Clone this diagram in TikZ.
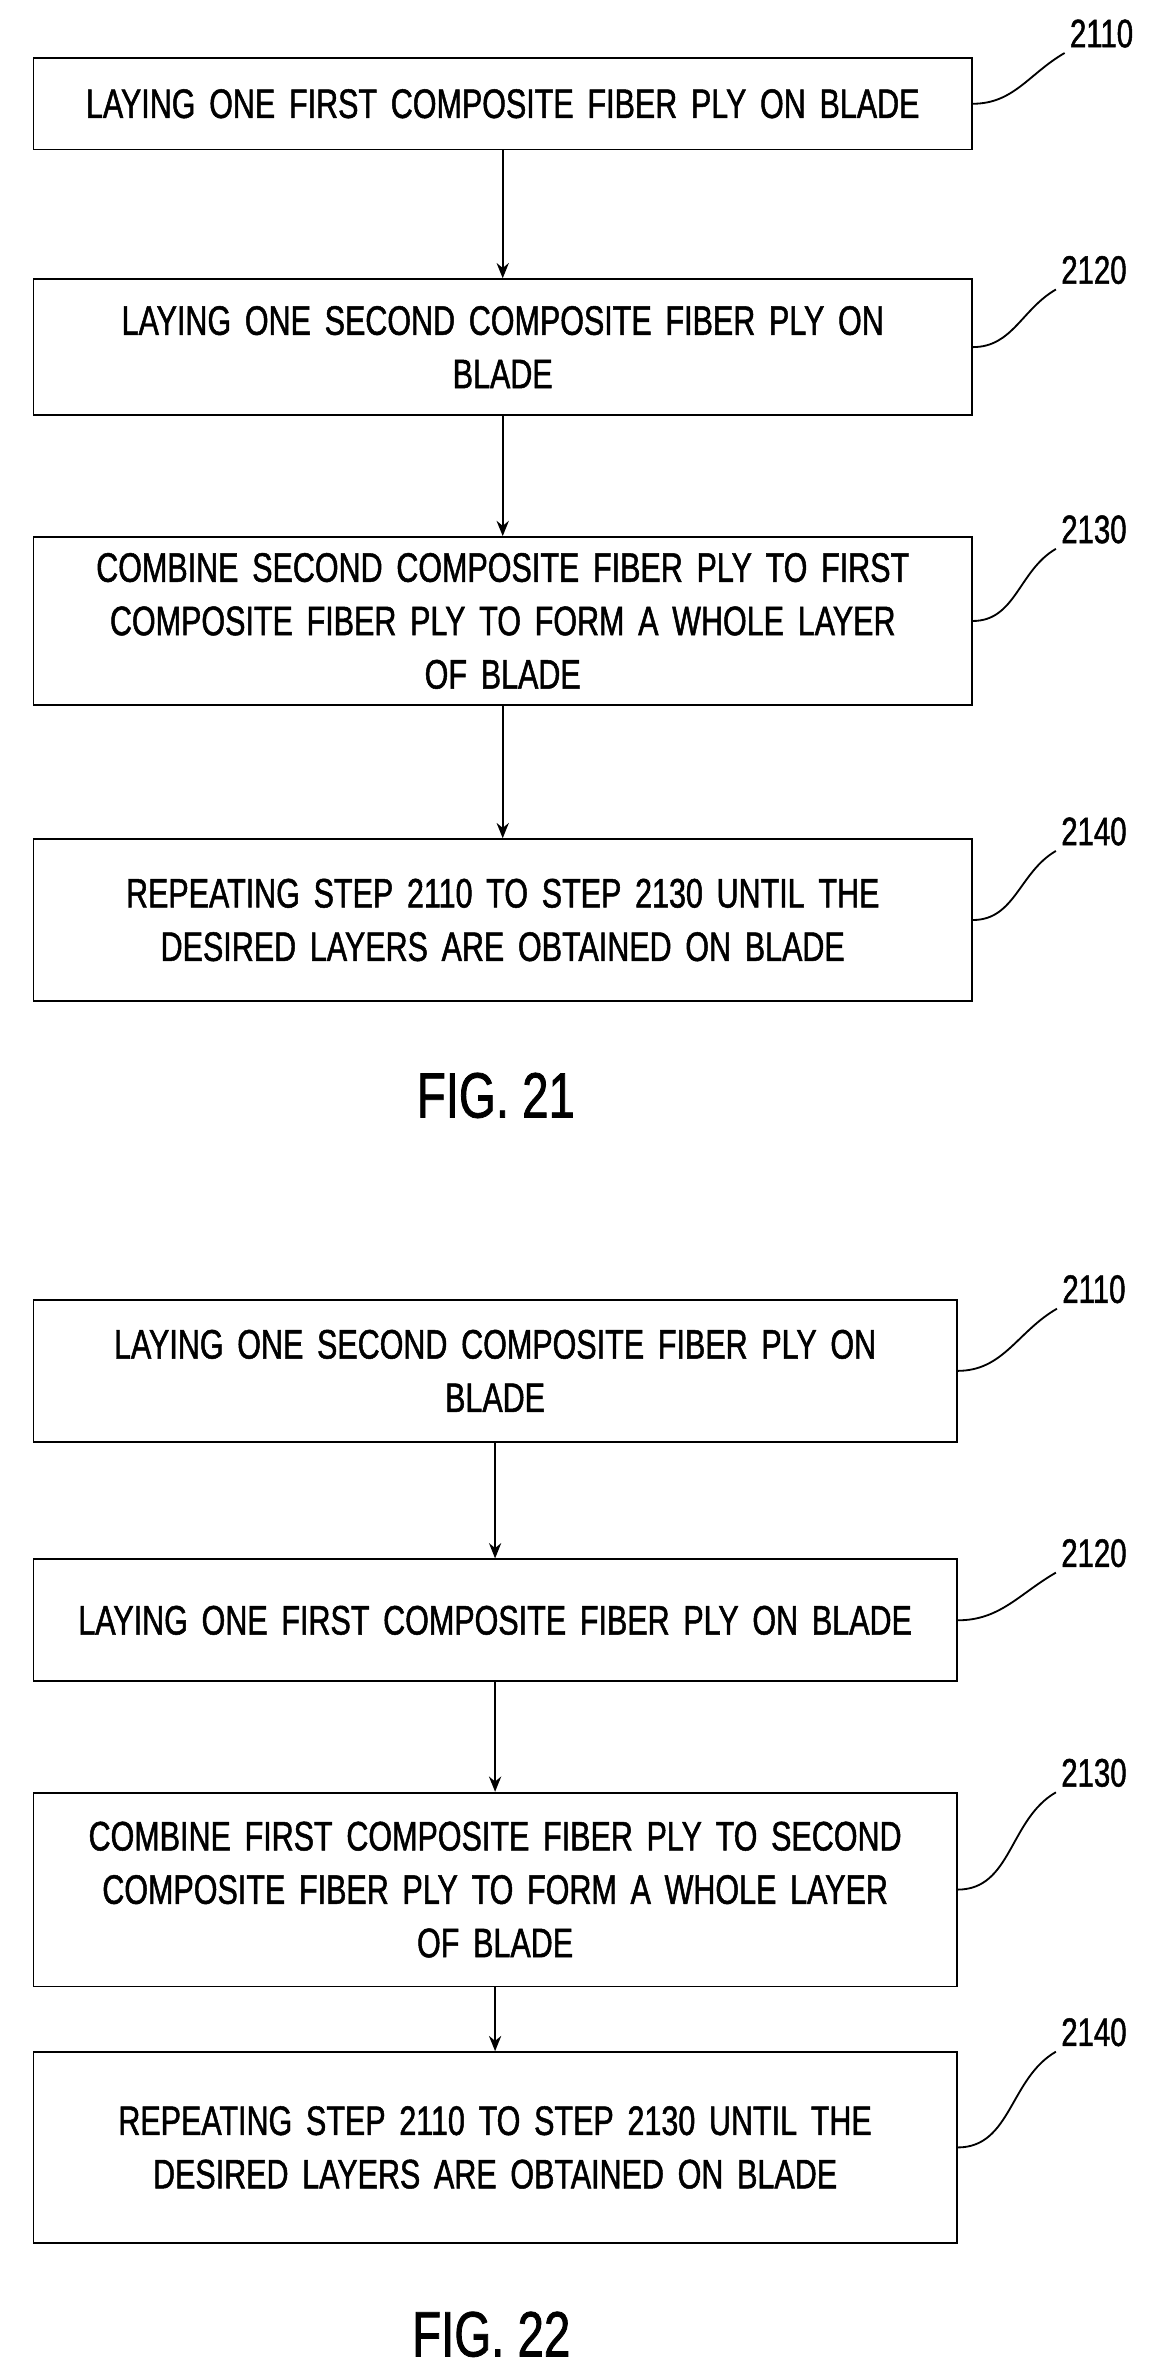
\documentclass[tikz,border=0pt]{standalone}
\usepackage{fontspec}
\setmainfont{Liberation Sans}[FakeStretch=0.74,FakeBold=1.2]
\usetikzlibrary{arrows.meta, positioning}

\begin{document}
\begin{tikzpicture}[x=1pt,y=-1pt,>={Stealth[length=10pt,width=8pt]},
        stepbox/.style={draw,line width=1.2pt,align=center,inner sep=2pt,font=\fontsize{27}{35}\selectfont},
        lbl/.style={font=\fontsize{26}{30}\selectfont},
        fig/.style={font=\fontsize{42}{46}\selectfont}]
    \useasboundingbox (0,0) rectangle (753,1556);

    % FIG. 21
    \node[stepbox,minimum width=615,minimum height=60,text width=605] (s1) at (329.5,68) {LAYING ONE FIRST COMPOSITE FIBER PLY ON BLADE};
    \node[stepbox,minimum width=615,minimum height=89,text width=560] (s2) at (329.5,227.5) {LAYING ONE SECOND COMPOSITE FIBER PLY ON\\ BLADE};
    \node[stepbox,minimum width=615,minimum height=110,text width=605] (s3) at (329.5,407) {COMBINE SECOND COMPOSITE FIBER PLY TO FIRST\\ COMPOSITE FIBER PLY TO FORM A WHOLE LAYER\\ OF BLADE};
    \node[stepbox,minimum width=615,minimum height=106,text width=605] (s4) at (329.5,603) {REPEATING STEP 2110 TO STEP 2130 UNTIL THE\\ DESIRED LAYERS ARE OBTAINED ON BLADE};
    \node[fig] (f21) at (325,718) {FIG. 21};

    \node[lbl] (l1) at (722,22) {2110};
    \node[lbl] (l2) at (717,177) {2120};
    \node[lbl] (l3) at (717,347) {2130};
    \node[lbl] (l4) at (717,545) {2140};

    \draw[->,line width=1.2pt] (s1) -- (s2);
    \draw[->,line width=1.2pt] (s2) -- (s3);
    \draw[->,line width=1.2pt] (s3) -- (s4);

    % FIG. 22
    \node[stepbox,minimum width=605,minimum height=93,text width=595] (t1) at (324.5,898.5) {LAYING ONE SECOND COMPOSITE FIBER PLY ON\\ BLADE};
    \node[stepbox,minimum width=605,minimum height=80,text width=600] (t2) at (324.5,1062) {LAYING ONE FIRST COMPOSITE FIBER PLY ON BLADE};
    \node[stepbox,minimum width=605,minimum height=127,text width=595] (t3) at (324.5,1238.5) {COMBINE FIRST COMPOSITE FIBER PLY TO SECOND\\ COMPOSITE FIBER PLY TO FORM A WHOLE LAYER\\ OF BLADE};
    \node[stepbox,minimum width=605,minimum height=125,text width=595] (t4) at (324.5,1407.5) {REPEATING STEP 2110 TO STEP 2130 UNTIL THE\\ DESIRED LAYERS ARE OBTAINED ON BLADE};
    \node[fig] (f22) at (322,1530) {FIG. 22};

    \node[lbl] (m1) at (717,845) {2110};
    \node[lbl] (m2) at (717,1018) {2120};
    \node[lbl] (m3) at (717,1162) {2130};
    \node[lbl] (m4) at (717,1332) {2140};

    \draw[->,line width=1.2pt] (t1) -- (t2);
    \draw[->,line width=1.2pt] (t2) -- (t3);
    \draw[->,line width=1.2pt] (t3) -- (t4);

    % leaders
    \foreach \b/\l in {s1/l1,s2/l2,s3/l3,s4/l4,t1/m1,t2/m2,t3/m3,t4/m4}
        \draw[line width=1.2pt] (\b.east) to[out=0,in=210] (\l.south west);
\end{tikzpicture}
\end{document}
